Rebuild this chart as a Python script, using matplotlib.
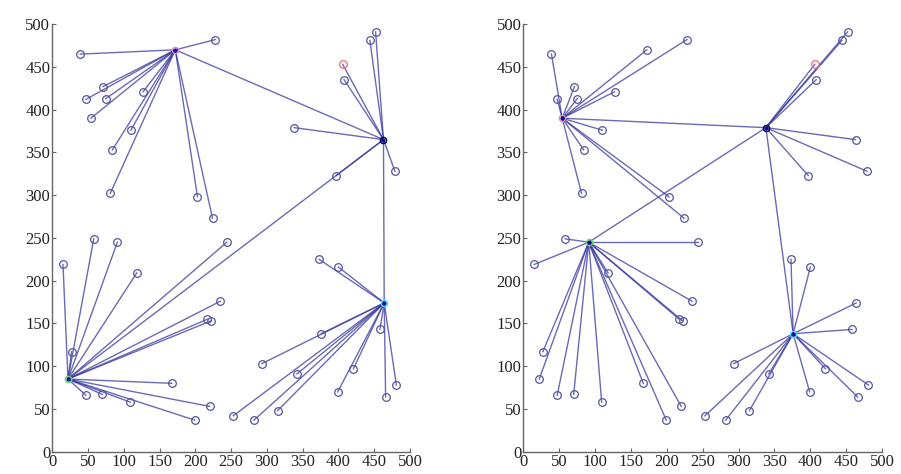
import matplotlib
matplotlib.use("Agg")
import matplotlib.pyplot as plt

plt.rcParams['font.family'] = ['Liberation Serif', 'DejaVu Serif']

# Sensor node coordinates (same deployment in both panels)
node_x = [39, 172, 228, 71, 47, 75, 127, 54, 110, 84, 81, 203, 224,
          406, 408, 444, 452, 338, 463, 479, 397,
          15, 58, 91, 118, 27, 244, 235, 217, 222, 22, 47, 70, 109, 167, 220, 199,
          373, 400, 464, 458, 376, 293, 342, 421, 399, 481, 466, 253, 282, 315]
node_y = [465, 470, 482, 427, 412, 413, 421, 390, 376, 353, 302, 298, 273,
          453, 435, 481, 491, 379, 365, 328, 323,
          219, 249, 245, 209, 117, 245, 176, 155, 153, 85, 66, 67, 58, 80, 53, 37,
          225, 216, 174, 143, 138, 103, 91, 97, 70, 78, 64, 42, 37, 48]
sink_index = 13  # red node

# Left panel: cluster heads (node indices) and members
left_heads = [1, 18, 30, 39]
left_head_colors = ['#e080c0', '#000040', '#60e060', '#40e0ff']
left_members = [
    [0, 2, 3, 4, 5, 6, 7, 8, 9, 10, 11, 12],
    [13, 14, 15, 16, 17, 19, 20],
    [21, 22, 23, 24, 25, 26, 27, 28, 29, 31, 32, 33, 34, 35, 36],
    [37, 38, 40, 41, 42, 43, 44, 45, 46, 47, 48, 49, 50],
]
left_routes = [(1, 18), (30, 18), (39, 18)]

# Right panel
right_heads = [7, 17, 23, 41]
right_head_colors = ['#f080a0', '#000040', '#60e060', '#40e0ff']
right_members = [
    [0, 1, 2, 3, 4, 5, 6, 8, 9, 10, 11, 12],
    [13, 14, 15, 16, 18, 19, 20],
    [22, 21, 26, 24, 27, 28, 29, 25, 30, 31, 32, 33, 34, 35, 36],
    [37, 38, 39, 40, 42, 43, 44, 45, 46, 47, 48, 49, 50],
]
right_routes = [(7, 17), (23, 17), (41, 17)]

ticks = [0, 50, 100, 150, 200, 250, 300, 350, 400, 450, 500]

fig = plt.figure(figsize=(9.01, 4.74), dpi=100)
ax1 = fig.add_axes([0.058, 0.047, 0.397, 0.902])
ax2 = fig.add_axes([0.581, 0.047, 0.398, 0.902])

line_color = (0.22, 0.22, 0.62)


def draw(ax, heads, head_colors, members, routes):
    for h, mem in zip(heads, members):
        for m in mem:
            ax.plot([node_x[h], node_x[m]], [node_y[h], node_y[m]],
                    color=line_color, lw=1.0, alpha=0.75, zorder=1)
    for a, b in routes:
        ax.plot([node_x[a], node_x[b]], [node_y[a], node_y[b]],
                color=line_color, lw=1.0, alpha=0.75, zorder=1)
    for i in range(len(node_x)):
        if i in heads:
            continue
        ec = '#e07080' if i == sink_index else '#5555a0'
        ax.plot(node_x[i], node_y[i], 'o', ms=5.5, mfc='none', mec=ec,
                mew=0.9, zorder=3)
    for h, c in zip(heads, head_colors):
        ax.plot(node_x[h], node_y[h], 'o', ms=4.5, mfc='none', mec=c,
                mew=1.0, zorder=4)
        ax.plot(node_x[h], node_y[h], '.', ms=4, color='#1010a0', zorder=5)
    ax.set_xlim(0, 500)
    ax.set_ylim(0, 500)
    ax.set_xticks(ticks)
    ax.set_yticks(ticks)
    for s in ['top', 'right']:
        ax.spines[s].set_visible(False)
    for s in ['left', 'bottom']:
        ax.spines[s].set_color('#666666')
        ax.spines[s].set_linewidth(1.0)
    ax.tick_params(direction='in', length=3, color='#666666',
                   labelsize=12, pad=1.5, labelcolor='#222222')


draw(ax1, left_heads, left_head_colors, left_members, left_routes)
draw(ax2, right_heads, right_head_colors, right_members, right_routes)

fig.savefig('out.png', dpi=100)
